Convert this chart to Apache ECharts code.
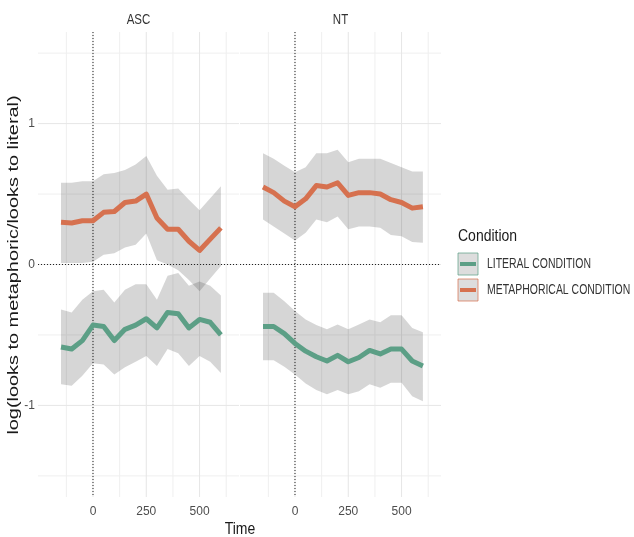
<!DOCTYPE html>
<html>
<head>
<meta charset="utf-8">
<script src="https://cdn.jsdelivr.net/npm/echarts@6/dist/echarts.min.js"></script>
<style>
  html, body { margin: 0; padding: 0; background: #fff; }
  #chart { width: 634px; height: 537px; }
</style>
</head>
<body>
<div id="chart"></div>
<script>
// Time points (ms from onset)
const time = [-150, -100, -50, 0, 50, 100, 150, 200, 250, 300, 350, 400, 450, 500, 550, 600];

// ASC group: mean log ratio with confidence band
const ascMetaMean  = [0.30, 0.295, 0.31, 0.31, 0.37, 0.376, 0.44, 0.45, 0.50, 0.33, 0.25, 0.25, 0.165, 0.10, 0.18, 0.26];
const ascMetaUpper = [0.58, 0.58, 0.59, 0.59, 0.64, 0.65, 0.67, 0.71, 0.77, 0.63, 0.53, 0.54, 0.46, 0.385, 0.47, 0.555];
const ascMetaLower = [0.01, 0.01, 0.01, 0.02, 0.07, 0.08, 0.12, 0.14, 0.22, 0.03, 0.0, -0.04, -0.11, -0.19, -0.10, -0.01];

const ascLitMean  = [-0.585, -0.60, -0.54, -0.43, -0.44, -0.54, -0.46, -0.43, -0.385, -0.45, -0.34, -0.35, -0.45, -0.39, -0.41, -0.50];
const ascLitUpper = [-0.32, -0.34, -0.25, -0.19, -0.18, -0.27, -0.18, -0.14, -0.14, -0.25, -0.08, -0.06, -0.15, -0.12, -0.15, -0.22];
const ascLitLower = [-0.85, -0.86, -0.79, -0.70, -0.71, -0.78, -0.73, -0.69, -0.65, -0.72, -0.60, -0.63, -0.72, -0.65, -0.69, -0.77];

// NT group
const ntMetaMean  = [0.55, 0.51, 0.45, 0.41, 0.466, 0.56, 0.55, 0.58, 0.49, 0.51, 0.51, 0.50, 0.46, 0.44, 0.40, 0.41];
const ntMetaUpper = [0.79, 0.75, 0.70, 0.655, 0.69, 0.79, 0.79, 0.815, 0.725, 0.75, 0.75, 0.75, 0.72, 0.69, 0.66, 0.66];
const ntMetaLower = [0.32, 0.27, 0.22, 0.17, 0.225, 0.32, 0.30, 0.34, 0.25, 0.27, 0.27, 0.26, 0.21, 0.20, 0.16, 0.155];

const ntLitMean  = [-0.44, -0.44, -0.49, -0.56, -0.615, -0.655, -0.685, -0.645, -0.69, -0.66, -0.61, -0.635, -0.60, -0.60, -0.685, -0.72];
const ntLitUpper = [-0.20, -0.20, -0.26, -0.33, -0.39, -0.43, -0.46, -0.425, -0.46, -0.425, -0.39, -0.41, -0.36, -0.36, -0.45, -0.48];
const ntLitLower = [-0.68, -0.68, -0.725, -0.78, -0.845, -0.89, -0.92, -0.89, -0.92, -0.90, -0.85, -0.875, -0.84, -0.84, -0.935, -0.97];

// Facets, legend entries, ticks
const facets = ['ASC', 'NT'];
const conditions = ['LITERAL CONDITION', 'METAPHORICAL CONDITION'];
const xTicks = [0, 250, 500];
const xMinor = [-125, 125, 375, 625];
const yTicks = [-1, 0, 1];
const yMinor = [-1.5, -0.5, 0.5, 1.5];

const FONT = '"Liberation Sans", Arial, sans-serif';
const COLORS = { lit: '#5c9f86', meta: '#d6714f' };
const RIBBON = 'rgba(50,50,50,0.2)';
const GRID_MAJOR = '#e6e6e6';
const GRID_MINOR = '#efefef';

const panels = [
  { lit: [ascLitMean, ascLitUpper, ascLitLower], meta: [ascMetaMean, ascMetaUpper, ascMetaLower] },
  { lit: [ntLitMean, ntLitUpper, ntLitLower], meta: [ntMetaMean, ntMetaUpper, ntMetaLower] }
];

const chart = echarts.init(document.getElementById('chart'), null, { renderer: 'canvas' });

// Vertical / horizontal rule drawn across the whole panel
function vRule(color, width, dash) {
  return function (params, api) {
    const cs = params.coordSys;
    const x = api.coord([api.value(0), 0])[0];
    return { type: 'line', shape: { x1: x, y1: cs.y, x2: x, y2: cs.y + cs.height },
      style: { stroke: color, lineWidth: width, lineDash: dash || null } };
  };
}
function hRule(color, width, dash) {
  return function (params, api) {
    const cs = params.coordSys;
    const y = api.coord([0, api.value(1)])[1];
    return { type: 'line', shape: { x1: cs.x, y1: y, x2: cs.x + cs.width, y2: y },
      style: { stroke: color, lineWidth: width, lineDash: dash || null } };
  };
}
// Confidence band polygon built from upper and lower arrays
function ribbon(upper, lower) {
  return function (params, api) {
    const pts = [];
    for (let i = 0; i < time.length; i++) pts.push(api.coord([time[i], upper[i]]));
    for (let i = time.length - 1; i >= 0; i--) pts.push(api.coord([time[i], lower[i]]));
    return { type: 'polygon', shape: { points: pts }, style: { fill: RIBBON } };
  };
}

const series = [];
panels.forEach((p, i) => {
  const ax = { xAxisIndex: i, yAxisIndex: i };
  series.push(Object.assign({ type: 'custom', silent: true, z: 1, data: xMinor.map(v => [v, 0]), renderItem: vRule(GRID_MINOR, 1) }, ax));
  series.push(Object.assign({ type: 'custom', silent: true, z: 1, data: yMinor.map(v => [0, v]), renderItem: hRule(GRID_MINOR, 1) }, ax));
  series.push(Object.assign({ type: 'custom', silent: true, z: 1, data: xTicks.map(v => [v, 0]), renderItem: vRule(GRID_MAJOR, 1) }, ax));
  series.push(Object.assign({ type: 'custom', silent: true, z: 1, data: yTicks.map(v => [0, v]), renderItem: hRule(GRID_MAJOR, 1) }, ax));
  series.push(Object.assign({ type: 'custom', silent: true, z: 2, data: [[0, 0]], renderItem: ribbon(p.meta[1], p.meta[2]) }, ax));
  series.push(Object.assign({ type: 'custom', silent: true, z: 2, data: [[0, 0]], renderItem: ribbon(p.lit[1], p.lit[2]) }, ax));
  // dotted reference lines at onset and at zero
  series.push(Object.assign({ type: 'custom', silent: true, z: 3, data: [[0, 0]], renderItem: vRule('#222', 1, [1, 2]) }, ax));
  series.push(Object.assign({ type: 'custom', silent: true, z: 3, data: [[0, 0]], renderItem: hRule('#222', 1, [1, 2]) }, ax));
  series.push(Object.assign({
    type: 'line', name: conditions[1], z: 4, showSymbol: false, silent: true,
    data: time.map((t, k) => [t, p.meta[0][k]]),
    lineStyle: { color: COLORS.meta, width: 5, join: 'round' }, itemStyle: { color: COLORS.meta }
  }, ax));
  series.push(Object.assign({
    type: 'line', name: conditions[0], z: 4, showSymbol: false, silent: true,
    data: time.map((t, k) => [t, p.lit[0][k]]),
    lineStyle: { color: COLORS.lit, width: 5, join: 'round' }, itemStyle: { color: COLORS.lit }
  }, ax));
});

const grids = [
  { left: 38, top: 32, width: 201, height: 465 },
  { left: 240, top: 32, width: 201, height: 465 }
];

const option = {
  animation: false,
  backgroundColor: '#ffffff',
  grid: grids,
  xAxis: grids.map((g, i) => ({
    gridIndex: i, type: 'value', min: -258, max: 685,
    axisLine: { show: false }, axisTick: { show: false }, splitLine: { show: false },
    axisLabel: { customValues: xTicks, color: '#4d4d4d', fontSize: 12, margin: 9, fontFamily: FONT }
  })),
  yAxis: grids.map((g, i) => ({
    gridIndex: i, type: 'value', min: -1.65, max: 1.65,
    axisLine: { show: false }, axisTick: { show: false }, splitLine: { show: false },
    axisLabel: { show: i === 0, customValues: yTicks, color: '#4d4d4d', fontSize: 12, margin: 3, fontFamily: FONT }
  })),
  series: series,
  graphic: [
    // facet strip labels
    ...facets.map((f, i) => ({
      type: 'text', x: grids[i].left + grids[i].width / 2, y: 20, scaleY: 1.2,
      style: { text: f, font: '11.5px ' + FONT, fill: '#333333', textAlign: 'center', textVerticalAlign: 'middle' }
    })),
    // axis titles
    { type: 'text', x: 240, y: 529, scaleY: 1.2,
      style: { text: 'Time', font: '14px ' + FONT, fill: '#1a1a1a', textAlign: 'center', textVerticalAlign: 'middle' } },
    { type: 'text', x: 14, y: 265, rotation: Math.PI / 2, scaleX: 1.42,
      style: { text: 'log(looks to metaphoric/looks to literal)', font: '14px ' + FONT, fill: '#1a1a1a',
        textAlign: 'center', textVerticalAlign: 'middle' } },
    // legend
    { type: 'text', x: 458, y: 236, scaleY: 1.2,
      style: { text: 'Condition', font: '14px ' + FONT, fill: '#1a1a1a', textAlign: 'left', textVerticalAlign: 'middle' } },
    ...[COLORS.lit, COLORS.meta].map((c, k) => ({
      type: 'group', x: 458, y: 253 + k * 26,
      children: [
        { type: 'rect', shape: { x: 0, y: 0, width: 20, height: 22 }, style: { fill: '#d9d9d9', stroke: c, lineWidth: 0.8, opacity: 0.9 } },
        { type: 'line', shape: { x1: 2, y1: 11, x2: 18, y2: 11 }, style: { stroke: c, lineWidth: 4 } }
      ]
    })),
    ...conditions.map((t, k) => ({
      type: 'text', x: 487, y: 264 + k * 26, scaleY: 1.25, scaleX: 0.95,
      style: { text: t, font: '11px ' + FONT, fill: '#333333', textAlign: 'left', textVerticalAlign: 'middle' }
    }))
  ]
};

chart.setOption(option);
</script>
</body>
</html>
